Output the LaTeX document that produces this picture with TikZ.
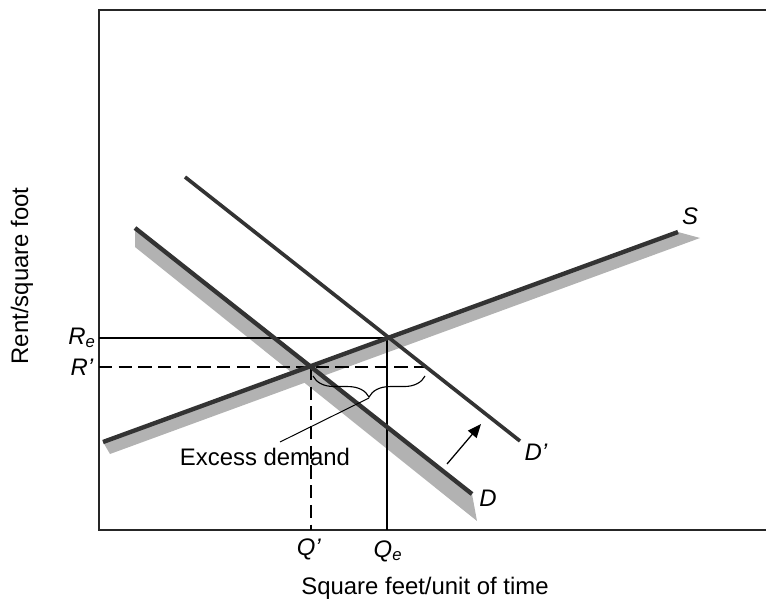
\documentclass[tikz,border=0pt]{standalone}
\usepackage{fontspec}
\setmainfont{Liberation Sans}
\usetikzlibrary{arrows.meta,decorations.pathreplacing}

\begin{document}
\begin{tikzpicture}[
  x=0.025cm,y=-0.025cm,
  lbl/.style={font=\fontsize{17}{20}\selectfont, inner sep=1pt},
  frame/.style={line width=1.9pt, draw=black!85},
  curve/.style={line width=3.1pt, draw=black!80},
  shade/.style={fill=black!30, draw=none},
  guide/.style={line width=0.8pt},
  dguide/.style={line width=0.8pt, dash pattern=on 9.5pt off 4.5pt},
  arr/.style={-{Triangle[length=3.4mm,width=2.8mm]}, line width=0.9pt}
]
\useasboundingbox (0,0) rectangle (766,603);

% axes
\draw[frame] (766,10) -- (99,10) -- (99,530) -- (766,530);

% equilibrium points
\coordinate (eq) at (387,338);
\coordinate (eqp) at (311,367);

% shadows under S and D
\fill[shade] (103,442) -- (678,232) -- (700,238) -- (110,454) -- cycle;
\fill[shade] (135,228) -- (472,494) -- (477,521) -- (135,247) -- cycle;

% guides
\draw[guide] (99,338) -- (eq) -- (387,530);
\draw[dguide] (99,367) -- (425,367);
\draw[dguide] (eqp) -- (311,530);

% supply and demand
\draw[curve] (103,442) -- (678,232);
\draw[curve] (135,228) -- (472,494);
\draw[curve, line width=2.6pt] (185,177) -- (520,441);

% excess demand brace
\draw[line width=0.8pt, decorate, decoration={brace, amplitude=15pt}] (425,376) -- (313,376);
\coordinate (tip) at (369,398);
\coordinate (lead) at (280,442);
\draw[line width=0.7pt] (tip) -- (lead);

% shift of demand
\coordinate (from) at (447,464);
\coordinate (to) at (481,424);
\draw[arr] (from) -- (to);

% labels
\node[lbl] (labS) at (690,216) {\textit{S}};
\node[lbl] (labDp) at (536,452) {\textit{D’}};
\node[lbl] (labD) at (488,498) {\textit{D}};
\node[lbl] (labRe) at (82,338) {\textit{R\textsubscript{e}}};
\node[lbl] (labRp) at (82,367) {\textit{R’}};
\node[lbl] (labQp) at (309,549) {\textit{Q’}};
\node[lbl] (labQe) at (388,551) {\textit{Q\textsubscript{e}}};
\node[lbl] (excess) at (265,457) {Excess demand};
\node[lbl] (xlab) at (425,588) {Square feet/unit of time};
\node[lbl, rotate=90] (ylab) at (22,276) {Rent/square foot};
\end{tikzpicture}
\end{document}
